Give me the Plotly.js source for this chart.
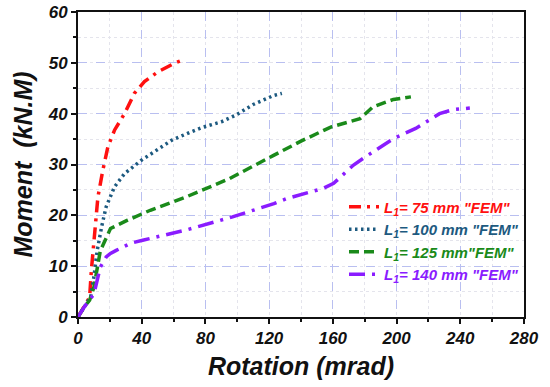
<!DOCTYPE html>
<html><head><meta charset="utf-8">
<script src="https://cdn.plot.ly/plotly-3.0.1.min.js"></script>
<style>html,body{margin:0;padding:0;background:#fff}#chart{width:550px;height:387px}</style>
</head><body><div id="chart"></div>
<script>
const names = ['L<sub>1</sub>= 75 mm "FEM"', 'L<sub>1</sub>= 100 mm "FEM"', 'L<sub>1</sub>= 125 mm"FEM"', 'L<sub>1</sub>= 140 mm "FEM"'];
const colors = ['#ff1010', '#1d5a80', '#1a8a1a', '#8a1cff'];

const x75 = [0, 4, 7.3, 8.4, 9.4, 10.4, 12.1, 12.5, 15.6, 18.8, 23, 29.2, 35.4, 41.7, 50, 60.4, 67];
const y75 = [0, 2, 3.9, 9.2, 13.1, 17.1, 21.7, 23.6, 28.9, 33.5, 36.8, 40, 44, 46.3, 48.2, 49.9, 50.7];

const x100 = [0, 4, 8, 10, 12, 15, 17.7, 22.9, 29.2, 39.6, 52.1, 59, 70.8, 78, 90, 99, 110, 123, 128];
const y100 = [0, 2, 4, 7.9, 13, 18, 21.7, 25.6, 28.2, 30.8, 33.5, 34.8, 36.4, 37.3, 38.4, 39.7, 41.8, 43.6, 44];

const x125 = [0, 4, 7.3, 10, 14, 20.4, 30.8, 40.5, 45.4, 67.7, 95, 122.8, 140, 159, 177, 185, 198, 209];
const y125 = [0, 2, 3.3, 5.9, 13, 17.4, 19, 20.4, 21, 23.6, 27.2, 31.8, 34.6, 37.4, 39, 41.3, 42.8, 43.3];

const x140 = [0, 4, 10, 14, 17.7, 20.4, 24, 33, 40.6, 67.7, 97, 123, 131, 154, 160.5, 173, 179, 198, 212, 227, 235.5, 246];
const y140 = [0, 2, 4.5, 9.8, 11.8, 12.5, 13.1, 14.5, 15.1, 17.1, 19.7, 22.3, 23.3, 25.3, 26.3, 29.9, 31.2, 35.1, 37.1, 40, 40.8, 41.1];

const xTicks = [0, 40, 80, 120, 160, 200, 240, 280];
const yTicks = [0, 10, 20, 30, 40, 50, 60];

const dashes = ['12px,6px,3px,6px', '2.5px,3.5px', '10px,5px', '16px,7px,3px,7px'];
const series = [[x75, y75], [x100, y100], [x125, y125], [x140, y140]];

const FONT = 'Liberation Sans, Arial, sans-serif';
const traces = series.map((s, i) => ({
  x: s[0], y: s[1], type: 'scatter', mode: 'lines',
  name: '<span style="color:' + colors[i] + '">' + names[i] + '</span>',
  line: {color: colors[i], width: 3.5, dash: dashes[i]}
}));

const axisCommon = {
  showline: true, linecolor: '#111', linewidth: 2, mirror: true,
  ticks: 'outside', ticklen: 5, tickwidth: 2, tickcolor: '#111',
  showgrid: true, gridcolor: '#b9bff0', gridwidth: 1, griddash: 'dash',
  zeroline: false,
  tickfont: {family: FONT, size: 17, color: '#111', weight: 'bold', style: 'italic'}
};

const layout = {
  width: 550, height: 387,
  margin: {l: 78, r: 26, t: 12, b: 70},
  paper_bgcolor: '#fff', plot_bgcolor: '#fff',
  showlegend: true,
  legend: {x: 1.0, xanchor: 'right', y: 0.415, yanchor: 'top', bgcolor: 'rgba(0,0,0,0)',
    font: {family: FONT, size: 15, weight: 'bold', style: 'italic'}, tracegroupgap: 0, itemwidth: 30},
  xaxis: Object.assign({}, axisCommon, {
    range: [0, 280], tickvals: xTicks, ticktext: xTicks.map(String),
    minor: {dtick: 20, showgrid: true, gridcolor: '#e4e4ec', griddash: 'dot', ticks: 'outside', ticklen: 3, tickcolor: '#111'},
    title: {text: 'Rotation (mrad)', standoff: 10, font: {family: FONT, size: 25, color: '#111', weight: 'bold', style: 'italic'}}
  }),
  yaxis: Object.assign({}, axisCommon, {
    range: [0, 60], tickvals: yTicks, ticktext: yTicks.map(String),
    minor: {dtick: 5, showgrid: true, gridcolor: '#e4e4ec', griddash: 'dot', ticks: 'outside', ticklen: 3, tickcolor: '#111'},
    title: {text: 'Moment  (kN.M)', standoff: 8, font: {family: FONT, size: 25, color: '#111', weight: 'bold', style: 'italic'}}
  })
};

Plotly.newPlot('chart', traces, layout, {displayModeBar: false, staticPlot: true});
</script></body></html>
